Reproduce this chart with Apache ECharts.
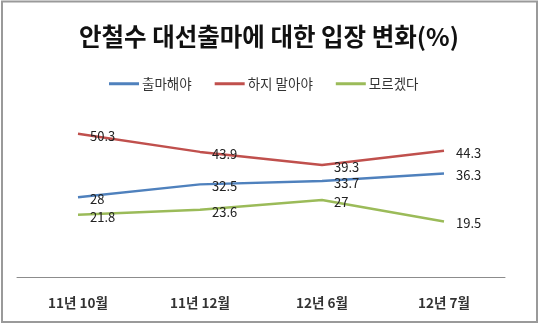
<!DOCTYPE html>
<html>
<head>
<meta charset="utf-8">
<script src="https://cdn.jsdelivr.net/npm/echarts@6/dist/echarts.min.js"></script>
<style>
  html, body { margin: 0; padding: 0; background: #fff; }
  #chart { width: 540px; height: 325px; }
</style>
</head>
<body>
<div id="chart"></div>
<script>
// Survey periods
const categories = ['11년 10월', '11년 12월', '12년 6월', '12년 7월'];
// Opinion shares (%)
const shouldRun = [28, 32.5, 33.7, 36.3];
const shouldNotRun = [50.3, 43.9, 39.3, 44.3];
const dontKnow = [21.8, 23.6, 27, 19.5];
const seriesNames = ['출마해야', '하지 말아야', '모르겠다'];
const colors = ['#4F81BD', '#C0504D', '#9BBB59'];

const font = '"Noto Sans CJK KR", "Noto Sans", sans-serif';

const chart = echarts.init(document.getElementById('chart'), null, { renderer: 'canvas' });

function makeSeries(name, data, color) {
  return {
    name: name,
    type: 'line',
    data: data,
    symbol: 'circle',
    symbolSize: 0,
    showSymbol: true,
    lineStyle: { color: color, width: 2.5 },
    itemStyle: { color: color },
    label: {
      show: true,
      position: 'right',
      distance: 12,
      offset: [0, 2],
      color: '#222',
      fontSize: 13,
      fontFamily: font
    },
    emphasis: { disabled: true }
  };
}

chart.setOption({
  animation: false,
  backgroundColor: '#fff',
  color: colors,
  title: {
    text: '안철수 대선출마에 대한 입장 변화(%)',
    left: 74,
    top: 19,
    textStyle: { fontSize: 24.5, fontWeight: 'bold', color: '#111', fontFamily: font }
  },
  legend: {
    top: 72,
    left: 104,
    itemWidth: 30,
    itemHeight: 3,
    itemGap: 23,
    icon: 'rect',
    textStyle: { fontSize: 13.5, color: '#333', fontFamily: font, padding: [0, 0, 0, -2] },
    data: seriesNames
  },
  grid: { left: 17, right: 35, top: 106, bottom: 48 },
  xAxis: {
    type: 'category',
    data: categories,
    boundaryGap: true,
    axisLine: { lineStyle: { color: '#8c8c8c', width: 1 } },
    axisTick: { show: false },
    axisLabel: { margin: 19, fontSize: 13.5, fontWeight: 'bold', color: '#333', fontFamily: font }
  },
  yAxis: {
    type: 'value',
    min: 0,
    max: 60,
    interval: 10,
    show: false,
    splitLine: { show: false }
  },
  series: [
    makeSeries(seriesNames[0], shouldRun, colors[0]),
    makeSeries(seriesNames[1], shouldNotRun, colors[1]),
    makeSeries(seriesNames[2], dontKnow, colors[2])
  ],
  graphic: [{
    type: 'rect',
    shape: { x: 2, y: 1.5, width: 535, height: 320.5 },
    style: { fill: 'none', stroke: '#9a9a9a', lineWidth: 2 },
    silent: true
  }]
});
</script>
</body>
</html>
